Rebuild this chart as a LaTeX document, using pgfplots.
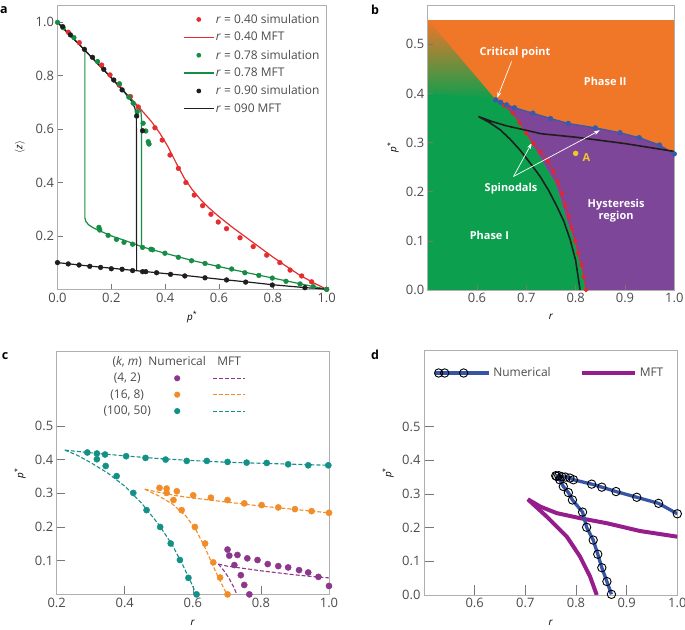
\documentclass[border=0pt]{standalone}
\usepackage{pgfplots}
\pgfplotsset{compat=1.18}
\usepackage{fontspec}
\setmainfont{Open Sans}
\usetikzlibrary{arrows.meta}

\definecolor{framegray}{RGB}{175,175,175}
\definecolor{tickgray}{RGB}{120,120,120}
\definecolor{labelgray}{RGB}{75,75,75}
\definecolor{redA}{RGB}{228,45,48}
\definecolor{greenA}{RGB}{22,140,68}
\definecolor{blackA}{RGB}{30,30,30}
\definecolor{orangeB}{RGB}{240,118,40}
\definecolor{greenB}{RGB}{12,160,78}
\definecolor{purpleB}{RGB}{125,70,152}
\definecolor{blueB}{RGB}{55,90,170}
\definecolor{redB}{RGB}{235,35,40}
\definecolor{yellowB}{RGB}{240,200,40}
\definecolor{tealC}{RGB}{20,145,135}
\definecolor{orangeC}{RGB}{242,140,40}
\definecolor{purpleC}{RGB}{140,55,140}
\definecolor{blueD}{RGB}{55,85,165}
\definecolor{purpleD}{RGB}{150,30,140}

\pgfplotsset{
  panel/.style={
    scale only axis,
    axis line style={draw=framegray, line width=0.7pt},
    tick style={draw=tickgray, line width=0.6pt},
    tick align=inside,
    tick pos=left,
    major tick length=5bp,
    tick label style={font=\fontsize{13}{15}\selectfont, text=labelgray},
    label style={font=\fontsize{9.5}{11}\selectfont, text=labelgray},
    /pgf/number format/assume math mode=true,
    /pgf/number format/fixed,
    /pgf/number format/fixed zerofill,
    /pgf/number format/precision=1,
  },
  xlab/.style={every axis x label/.style={at={(axis description cs:0.5,0)}, anchor=center, yshift=-#1}},
  ylab/.style={every axis y label/.style={at={(axis description cs:0,0.5)}, anchor=center, xshift=-#1, rotate=90}},
  % legend rows of panel c: label, numerical dot, MFT dashed line
  crow/.style 2 args={legend image code/.code={%
    \path[draw=none, fill=none] (-80bp,-7bp) rectangle (80bp,7bp);
    \node[text=labelgray, inner sep=0pt, anchor=center] at (-50bp,0bp) {#1};
    \fill[#2, draw=none] (0bp,0bp) circle (3.1bp);
    \draw[#2, line width=1.1bp, dash pattern=on 4bp off 2bp] (36bp,0bp) -- (68bp,0bp);}},
  chead/.style={legend image code/.code={%
    \path[draw=none, fill=none] (-80bp,-7bp) rectangle (80bp,7bp);
    \node[text=labelgray, inner sep=0pt, anchor=center] at (-50bp,0bp) {(\textit{k}, \textit{m})};
    \node[text=labelgray, inner sep=0pt, anchor=center] at (0bp,0bp) {Numerical};
    \node[text=labelgray, inner sep=0pt, anchor=center] at (52bp,0bp) {MFT};}},
}

\begin{document}
\begin{tikzpicture}
\path[use as bounding box] (0bp,0bp) rectangle (685bp,630bp);

% ---------------- panel a ----------------
\begin{axis}[panel, at={(57.5bp,340.7bp)}, anchor=south west,
  width=269.2bp, height=284.3bp,
  xmin=0, xmax=1, ymin=0, ymax=1.065,
  xtick={0,0.2,0.4,0.6,0.8,1.0}, ytick={0.2,0.4,0.6,0.8,1.0},
  xlab=27.7bp, ylab=37.5bp,
  xlabel={\textit{p}\textsuperscript{*}},
  ylabel={$\langle$\textit{z}$\rangle$},
  legend cell align=left,
  legend style={at={(axis description cs:0.466,0.9736)}, anchor=north west,
    draw=none, fill=none, inner sep=0pt, row sep=4.5bp,
    font=\fontsize{12}{14}\selectfont, text=labelgray, nodes={inner sep=1.5bp}},
]
\addplot[only marks, mark=*, mark size=2.4bp, redA, forget plot] coordinates {
(0.04,0.963)(0.081,0.924)(0.164,0.840)(0.195,0.803)(0.229,0.765)(0.271,0.722)(0.30,0.683)
(0.362,0.605)(0.389,0.559)(0.418,0.503)(0.449,0.453)(0.477,0.400)(0.508,0.353)
(0.539,0.313)(0.570,0.281)(0.597,0.252)(0.628,0.227)(0.678,0.193)(0.727,0.160)
(0.777,0.128)(0.826,0.100)(0.864,0.072)(0.907,0.050)(0.944,0.028)(1.0,0.0)};
\addplot[redA, line width=1.2bp, no marks, forget plot] coordinates {
(0,1)(0.1,0.897)(0.2,0.792)(0.3,0.685)(0.35,0.627)(0.38,0.585)(0.41,0.535)(0.44,0.475)
(0.47,0.418)(0.5,0.374)(0.53,0.338)(0.56,0.307)(0.6,0.272)(0.65,0.232)(0.7,0.195)
(0.75,0.158)(0.8,0.121)(0.85,0.086)(0.9,0.053)(0.95,0.025)(1,0)};
\addplot[only marks, mark=*, mark size=2.4bp, greenA, forget plot] coordinates {
(0.0,1.0)(0.021,0.98)(0.061,0.943)(0.149,0.853)(0.23,0.77)(0.265,0.72)(0.281,0.697)
(0.296,0.665)(0.318,0.622)(0.328,0.593)(0.337,0.553)(0.34,0.544)
(0.154,0.232)(0.157,0.222)(0.188,0.202)(0.219,0.187)(0.247,0.176)(0.279,0.169)
(0.316,0.157)(0.347,0.15)(0.353,0.148)(0.399,0.135)(0.449,0.12)(0.498,0.107)
(0.548,0.097)(0.597,0.085)(0.647,0.076)(0.696,0.062)(0.748,0.052)(0.798,0.042)
(0.849,0.030)(0.901,0.020)(0.950,0.010)(1.0,0.0)};
\addplot[greenA, line width=1.2bp, no marks, forget plot] coordinates {
(0,1)(0.1,0.897)(0.2,0.792)(0.25,0.738)(0.28,0.703)(0.3,0.68)(0.31,0.665)(0.312,0.64)
(0.312,0.16)(0.35,0.149)(0.4,0.135)(0.5,0.108)(0.6,0.085)(0.7,0.063)(0.8,0.042)
(0.9,0.021)(1.0,0.0)};
\addplot[greenA, line width=1.2bp, no marks, forget plot] coordinates {
(0.1016,0.895)(0.1016,0.268)(0.105,0.255)(0.115,0.242)(0.13,0.232)(0.15,0.222)
(0.2,0.200)(0.25,0.183)(0.312,0.16)};
\addplot[only marks, mark=*, mark size=2.4bp, blackA, forget plot] coordinates {
(0.019,0.984)(0.048,0.953)(0.10,0.899)(0.13,0.869)(0.172,0.824)(0.209,0.784)(0.24,0.747)
(0.294,0.649)(0.316,0.594)
(0,0.1)(0.04,0.095)(0.08,0.091)(0.12,0.086)(0.16,0.082)(0.2,0.077)(0.24,0.075)
(0.279,0.07)(0.316,0.066)(0.328,0.066)(0.368,0.062)(0.42,0.056)(0.473,0.05)
(0.548,0.043)(0.628,0.035)(0.699,0.027)(0.798,0.016)(0.919,0.006)};
\addplot[blackA, line width=1.2bp, no marks, forget plot] coordinates {
(0,0.1)(0.1,0.089)(0.2,0.079)(0.3,0.069)(0.4,0.059)(0.5,0.049)(0.6,0.038)(0.7,0.028)
(0.8,0.017)(0.9,0.008)(1,0)};
\addplot[blackA, line width=1.2bp, no marks, forget plot] coordinates {
(0,1)(0.1,0.897)(0.2,0.792)(0.25,0.737)(0.275,0.705)(0.287,0.68)(0.293,0.655)(0.294,0.069)};
% legend
\addlegendimage{legend image code/.code={\path[draw=none] (0bp,0bp) -- (30bp,0bp); \fill[redA, draw=none] (15bp,0bp) circle (2.4bp);}}
\addlegendentry{\textit{r} = 0.40 simulation}
\addlegendimage{legend image code/.code={\draw[redA, line width=1.3bp] (0bp,0bp) -- (30bp,0bp);}}
\addlegendentry{\textit{r} = 0.40 MFT}
\addlegendimage{legend image code/.code={\path[draw=none] (0bp,0bp) -- (30bp,0bp); \fill[greenA, draw=none] (15bp,0bp) circle (2.4bp);}}
\addlegendentry{\textit{r} = 0.78 simulation}
\addlegendimage{legend image code/.code={\draw[greenA, line width=1.3bp] (0bp,0bp) -- (30bp,0bp);}}
\addlegendentry{\textit{r} = 0.78 MFT}
\addlegendimage{legend image code/.code={\path[draw=none] (0bp,0bp) -- (30bp,0bp); \fill[blackA, draw=none] (15bp,0bp) circle (2.4bp);}}
\addlegendentry{\textit{r} = 0.90 simulation}
\addlegendimage{legend image code/.code={\draw[blackA, line width=1.3bp] (0bp,0bp) -- (30bp,0bp);}}
\addlegendentry{\textit{r} = 090 MFT}
\end{axis}

% ---------------- panel b ----------------
\begin{axis}[panel, axis on top, at={(427.7bp,340bp)}, anchor=south west,
  width=246.6bp, height=285bp,
  xmin=0.5, xmax=1.0, ymin=0, ymax=0.58,
  xtick={0.6,0.7,0.8,0.9,1.0}, ytick={0,0.1,0.2,0.3,0.4,0.5},
  xlab=27bp, ylab=34.7bp,
  xlabel={\textit{r}}, ylabel={\textit{p}\textsuperscript{*}},
]
\addplot[fill=orangeB, draw=none] coordinates {(0.5,0)(1,0)(1,0.55)(0.5,0.55)};
\addplot[draw=none, top color=orangeB, bottom color=greenB] coordinates {(0.638,0.387)(0.5,0.398)(0.5,0.55)};
\addplot[fill=greenB, draw=none] coordinates {
(0.5,0)(0.821,0)(0.816,0.027)(0.805,0.068)(0.797,0.102)(0.787,0.129)(0.78,0.149)
(0.774,0.17)(0.766,0.197)(0.758,0.22)(0.745,0.241)(0.728,0.271)(0.711,0.299)(0.70,0.319)
(0.69,0.336)(0.67,0.363)(0.65,0.378)(0.638,0.387)(0.6,0.393)(0.55,0.397)(0.5,0.40)};
\addplot[fill=purpleB, draw=none] coordinates {
(0.638,0.387)(0.66,0.378)(0.676,0.371)(0.713,0.36)(0.749,0.349)(0.785,0.339)(0.84,0.33)
(0.89,0.32)(0.929,0.31)(0.97,0.295)(1.0,0.277)(1.0,0)(0.821,0)(0.816,0.027)(0.805,0.068)
(0.797,0.102)(0.787,0.129)(0.78,0.149)(0.774,0.17)(0.766,0.197)(0.758,0.22)(0.745,0.241)
(0.728,0.271)(0.711,0.299)(0.70,0.319)(0.69,0.336)(0.67,0.363)(0.65,0.378)};
\addplot[redB, line width=0.8bp, mark=*, mark size=1.8bp] coordinates {
(0.821,0.0)(0.816,0.027)(0.812,0.05)(0.805,0.075)(0.799,0.10)(0.792,0.125)(0.786,0.15)
(0.779,0.172)(0.772,0.196)(0.764,0.219)(0.755,0.241)(0.744,0.262)(0.729,0.28)(0.714,0.298)
(0.70,0.319)(0.686,0.34)(0.672,0.36)(0.655,0.375)(0.638,0.387)};
\addplot[blueB, line width=1.2bp, mark=*, mark size=2bp] coordinates {
(0.638,0.387)(0.648,0.382)(0.66,0.377)(0.676,0.371)(0.713,0.36)(0.749,0.349)(0.785,0.339)
(0.84,0.33)(0.89,0.32)(0.929,0.31)(0.97,0.295)(1.0,0.277)};
\addplot[blackA, line width=1.6bp, no marks] coordinates {
(0.809,0)(0.80,0.06)(0.789,0.102)(0.776,0.14)(0.762,0.17)(0.745,0.203)(0.728,0.231)
(0.708,0.258)(0.687,0.285)(0.667,0.307)(0.647,0.326)(0.625,0.341)(0.603,0.353)
(0.63,0.343)(0.66,0.334)(0.70,0.325)(0.73,0.318)(0.8,0.311)(0.9,0.298)(1.0,0.282)};
\addplot[only marks, mark=*, mark size=2.5bp, yellowB] coordinates {(0.80,0.278)};
\node[text=yellowB, font=\bfseries\fontsize{11}{13}\selectfont] at (axis cs:0.822,0.269) {A};
\begin{scope}[every node/.style={text=white, font=\bfseries\fontsize{11}{13}\selectfont, align=center}]
\node at (axis cs:0.677,0.483) {Critical point};
\node at (axis cs:0.86,0.424) {Phase II};
\node at (axis cs:0.669,0.207) {Spinodals};
\node at (axis cs:0.882,0.161) {Hysteresis\\[-1pt]region};
\node at (axis cs:0.625,0.112) {Phase I};
\end{scope}
\draw[white, line width=0.7pt, -{Stealth[length=6bp,width=4bp]}] (axis cs:0.670,0.465) -- (axis cs:0.641,0.391);
\draw[white, line width=0.7pt, -{Stealth[length=6bp,width=4bp]}] (axis cs:0.674,0.231) -- (axis cs:0.711,0.299);
\draw[white, line width=0.7pt, -{Stealth[length=6bp,width=4bp]}] (axis cs:0.674,0.231) -- (axis cs:0.849,0.325);
\end{axis}

% ---------------- panel c ----------------
\begin{axis}[panel, at={(56.7bp,35.6bp)}, anchor=south west,
  width=272.3bp, height=242.7bp,
  xmin=0.2, xmax=1.0, ymin=0, ymax=0.72,
  major tick length=8bp,
  xtick={0.2,0.4,0.6,0.8,1.0}, ytick={0.1,0.2,0.3,0.4,0.5},
  xlab=28.6bp, ylab=36.7bp,
  xlabel={\textit{r}}, ylabel={\textit{p}\textsuperscript{*}},
  legend columns=1,
  legend style={at={(axis cs:0.3184,0.7112)}, anchor=north west,
    draw=none, fill=none, inner sep=0pt, column sep=0bp, row sep=2.4bp,
    font=\fontsize{12}{14}\selectfont, text=labelgray, nodes={inner sep=0bp}},
]
% MFT curves
\addplot[tealC, line width=1.1bp, dash pattern=on 4bp off 2bp, forget plot] coordinates {
(0.224,0.428)(0.3,0.42)(0.4,0.411)(0.5,0.403)(0.6,0.397)(0.7,0.392)(0.8,0.389)(0.9,0.386)(1.0,0.383)};
\addplot[tealC, line width=1.1bp, dash pattern=on 4bp off 2bp, forget plot] coordinates {
(0.224,0.428)(0.26,0.413)(0.3,0.391)(0.35,0.36)(0.4,0.321)(0.45,0.27)(0.5,0.207)
(0.54,0.146)(0.57,0.088)(0.595,0.035)(0.61,0.0)};
\addplot[orangeC, line width=1.1bp, dash pattern=on 4bp off 2bp, forget plot] coordinates {
(0.459,0.312)(0.5,0.303)(0.55,0.293)(0.6,0.286)(0.65,0.28)(0.7,0.274)(0.8,0.262)(0.9,0.252)(1.0,0.242)};
\addplot[orangeC, line width=1.1bp, dash pattern=on 4bp off 2bp, forget plot] coordinates {
(0.459,0.312)(0.5,0.292)(0.54,0.268)(0.58,0.232)(0.61,0.19)(0.635,0.14)(0.655,0.095)
(0.675,0.05)(0.695,0.01)(0.70,0)};
\addplot[purpleC, line width=1.1bp, dash pattern=on 4bp off 2bp, forget plot] coordinates {
(0.675,0.09)(0.7,0.084)(0.75,0.077)(0.8,0.07)(0.85,0.064)(0.9,0.058)(0.95,0.053)(1.0,0.049)};
\addplot[purpleC, line width=1.1bp, dash pattern=on 4bp off 2bp, forget plot] coordinates {
(0.675,0.09)(0.69,0.072)(0.705,0.05)(0.72,0.022)(0.729,0)};
% numerical points
\addplot[only marks, mark=*, mark size=3.1bp, tealC, forget plot] coordinates {
(0.29,0.421)(0.318,0.418)(0.342,0.415)(0.404,0.41)(0.461,0.405)(0.52,0.40)(0.582,0.396)
(0.641,0.396)(0.702,0.393)(0.758,0.391)(0.817,0.39)(0.88,0.386)(0.939,0.383)(0.998,0.383)
(0.318,0.401)(0.344,0.381)(0.376,0.351)(0.425,0.301)(0.464,0.25)(0.504,0.20)(0.535,0.151)
(0.562,0.102)(0.587,0.049)(0.611,0)};
\addplot[only marks, mark=*, mark size=3.1bp, orangeC, forget plot] coordinates {
(0.502,0.316)(0.523,0.314)(0.523,0.301)(0.553,0.306)(0.543,0.28)(0.601,0.294)(0.653,0.287)
(0.702,0.28)(0.751,0.27)(0.802,0.265)(0.851,0.258)(0.90,0.253)(0.949,0.247)(1.0,0.242)
(0.567,0.25)(0.606,0.20)(0.636,0.151)(0.66,0.095)(0.68,0.05)(0.702,0)};
\addplot[only marks, mark=*, mark size=3.1bp, purpleC, forget plot] coordinates {
(0.702,0.133)(0.707,0.115)(0.731,0.117)(0.722,0.087)(0.76,0.107)(0.741,0.057)(0.751,0.028)
(0.766,0)(0.79,0.102)(0.82,0.09)(0.851,0.084)(0.88,0.08)(0.912,0.072)(0.939,0.065)
(0.969,0.052)(1.0,0.025)};
% legend (one row per (k, m) pair)
\addlegendimage{chead}\addlegendentry{}
\addlegendimage{crow={(4, 2)}{purpleC}}\addlegendentry{}
\addlegendimage{crow={(16, 8)}{orangeC}}\addlegendentry{}
\addlegendimage{crow={(100, 50)}{tealC}}\addlegendentry{}
\end{axis}

% ---------------- panel d ----------------
\begin{axis}[panel, at={(424bp,35bp)}, anchor=south west,
  width=253.3bp, height=244.3bp,
  xmin=0.5, xmax=1.0, ymin=0, ymax=0.725,
  major tick length=10bp,
  xtick={0.6,0.7,0.8,0.9,1.0}, ytick={0,0.1,0.2,0.3,0.4,0.5},
  xlab=28bp, ylab=36bp,
  xlabel={\textit{r}}, ylabel={\textit{p}\textsuperscript{*}},
  legend columns=2,
  legend cell align=left,
  legend style={at={(axis cs:0.5174,0.6588)}, anchor=west,
    draw=none, fill=none, inner sep=0pt, column sep=1bp,
    font=\fontsize{12}{14}\selectfont, text=labelgray, nodes={inner sep=2bp}},
]
\addplot[purpleD, line width=4bp, no marks, forget plot] coordinates {
(0.705,0.284)(0.73,0.262)(0.762,0.243)(0.808,0.228)(0.861,0.213)(0.926,0.190)(1.0,0.173)};
\addplot[purpleD, line width=4bp, no marks, forget plot] coordinates {
(0.705,0.284)(0.742,0.233)(0.782,0.173)(0.808,0.114)(0.828,0.054)(0.841,0)};
\addplot[blueD, line width=3.3bp, mark=o, mark size=4.2bp, mark options={draw=black, line width=0.9bp, fill=none}, forget plot] coordinates {
(0.76,0.354)(0.766,0.354)(0.772,0.351)(0.779,0.35)(0.788,0.347)(0.795,0.342)(0.831,0.329)
(0.851,0.32)(0.879,0.307)(0.92,0.29)(0.963,0.272)(1.0,0.241)};
\addplot[blueD, line width=3.3bp, mark=o, mark size=4.2bp, mark options={draw=black, line width=0.9bp, fill=none}, forget plot] coordinates {
(0.762,0.352)(0.768,0.342)(0.775,0.322)(0.785,0.304)(0.793,0.282)(0.813,0.246)(0.821,0.201)
(0.834,0.163)(0.843,0.121)(0.851,0.081)(0.861,0.04)(0.87,0.002)};
\addlegendimage{legend image code/.code={\draw[blueD, line width=3.3bp] (0bp,0bp) -- (54bp,0bp); \draw[black, line width=0.9bp, fill=none] (4bp,0bp) circle (4.2bp) (10bp,0bp) circle (4.2bp) (29bp,0bp) circle (4.2bp);}}
\addlegendentry{Numerical}
\addlegendimage{legend image code/.code={\path[draw=none] (-28bp,0bp) -- (0bp,0bp); \draw[purpleD, line width=4bp] (0bp,0bp) -- (53bp,0bp);}}
\addlegendentry{MFT}
\end{axis}

% panel letters
\begin{scope}[every node/.style={font=\bfseries\fontsize{12.5}{14}\selectfont, anchor=center}]
\node at (4bp,620bp) {a};
\node at (375bp,620bp) {b};
\node at (5bp,274bp) {c};
\node at (375bp,275bp) {d};
\end{scope}
\end{tikzpicture}
\end{document}
